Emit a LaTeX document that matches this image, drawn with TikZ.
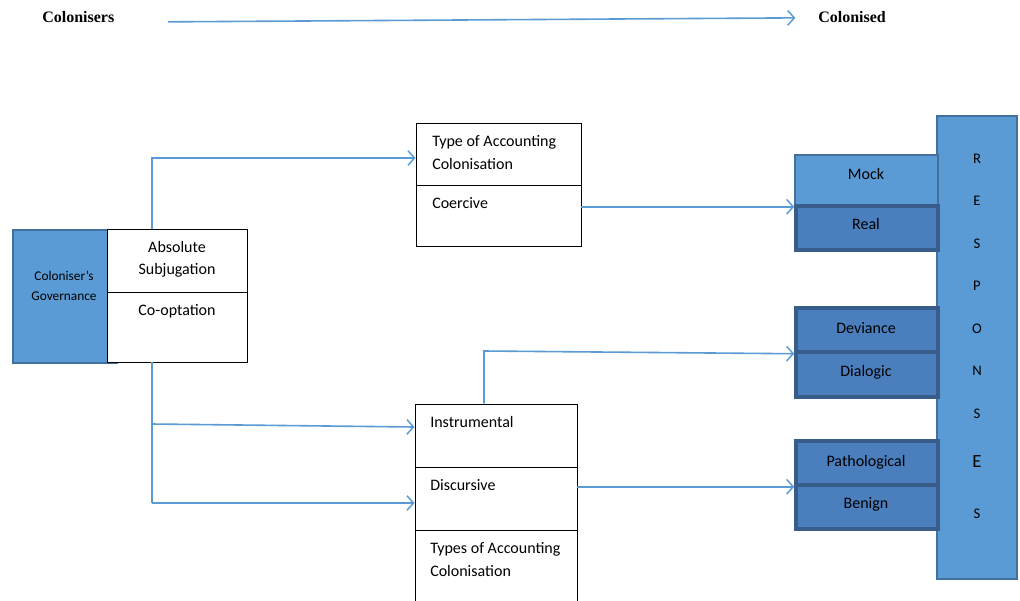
\documentclass[tikz,border=0pt]{standalone}
\usepackage{fontspec}
\setmainfont{Carlito}
\newfontfamily\titlefont{Liberation Serif}
\usetikzlibrary{arrows.meta,fit}
\definecolor{lb}{HTML}{5B9BD5}
\definecolor{lbb}{HTML}{41719C}
\definecolor{db}{HTML}{4A7EBD}
\definecolor{dbb}{HTML}{385D8A}
\begin{document}
\begin{tikzpicture}[x=0.75pt,y=-0.75pt,
  cell/.style={draw=black, fill=white, line width=0.7pt, inner sep=0pt},
  govbox/.style={draw=lbb, fill=lb, line width=1.2pt, inner sep=0pt},
  mockbox/.style={draw=lbb, fill=lb, line width=1.1pt, inner sep=0pt},
  darkbox/.style={draw=dbb, fill=db, line width=2.6pt, inner sep=0pt},
  txt/.style={inner sep=0pt, font=\fontsize{12}{14}\selectfont},
  smalltxt/.style={inner sep=0pt, font=\fontsize{10}{12}\selectfont},
  lettxt/.style={inner sep=0pt, font=\fontsize{11}{13}\selectfont},
  titletxt/.style={inner sep=0pt, font=\titlefont\bfseries\fontsize{12}{14}\selectfont},
  line/.style={draw=lb, line width=1.2pt},
  conn/.style={line, -{Straight Barb[length=5pt,width=11pt,line width=1.1pt]}}
]
\useasboundingbox (0,0) rectangle (1020,600);

% title row
\node[titletxt, anchor=base west] (colr) at (42,22) {Colonisers};
\node[titletxt, anchor=base west] (cold) at (818,22) {Colonised};
\draw[conn] ([xshift=40pt,yshift=-4pt]colr.east) -- ([xshift=-17pt,yshift=-1pt]cold.west);

% coloniser's governance
\node[govbox, fit={(13,230)(117,363)}] (gov) {};
\node[smalltxt, anchor=base] (gov1) at (64,280) {Coloniser’s};
\node[smalltxt, anchor=base] (gov2) at (64,300) {Governance};
\node[cell, fit={(107,229)(247,292)}] (abs) {};
\node[cell, fit={(107,292)(247,362)}] (coopt) {};
\node[txt, anchor=base] (abs1) at (177,252) {Absolute};
\node[txt, anchor=base] (abs2) at (177,274) {Subjugation};
\node[txt, anchor=base] (coopt1) at (177,315) {Co-optation};

% type of accounting colonisation box (top)
\node[cell, fit={(416,123)(581,185)}] (tac) {};
\node[cell, fit={(416,185)(581,246)}] (coer) {};
\node[txt, anchor=base west] (tac1) at (432,146) {Type of Accounting};
\node[txt, anchor=base west] (tac2) at (432,169) {Colonisation};
\node[txt, anchor=base west] (coer1) at (432,208) {Coercive};

% bottom box
\node[cell, fit={(415,404)(577,467)}] (instr) {};
\node[cell, fit={(415,467)(577,530)}] (disc) {};
\node[cell, fit={(415,530)(577,605)}] (tacb) {};
\node[txt, anchor=base west] (instr1) at (430,427) {Instrumental};
\node[txt, anchor=base west] (disc1) at (430,490) {Discursive};
\node[txt, anchor=base west] (tacb1) at (430,553) {Types of Accounting};
\node[txt, anchor=base west] (tacb2) at (430,576) {Colonisation};

% responses
\node[mockbox, fit={(937,116)(1017,579)}] (resp) {};
\foreach \l/\y [count=\i] in {R/163,E/205,S/248,P/290,O/333,N/375,S/418}
  \node[lettxt, anchor=base] (r\i) at (977,\y) {\l};
\node[inner sep=0pt, font=\fontsize{14}{16}\selectfont, anchor=base] (r8) at (977,467) {E};
\node[lettxt, anchor=base] (r9) at (977,518) {S};

\node[mockbox, fit={(795,155)(938,206)}] (mock) {};
\node[darkbox, fit={(796,206)(938,250)}] (real) {};
\node[darkbox, fit={(796,308)(938,352)}] (dev) {};
\node[darkbox, fit={(796,352)(938,397)}] (dial) {};
\node[darkbox, fit={(796,441)(938,485)}] (patho) {};
\node[darkbox, fit={(796,485)(938,529)}] (benign) {};
\node[txt, anchor=base] (mock1) at (866,179) {Mock};
\node[txt, anchor=base] (real1) at (866,229) {Real};
\node[txt, anchor=base] (dev1) at (866,333) {Deviance};
\node[txt, anchor=base] (dial1) at (866,376) {Dialogic};
\node[txt, anchor=base] (patho1) at (866,466) {Pathological};
\node[txt, anchor=base] (benign1) at (866,508) {Benign};

% connectors
\coordinate (jt) at (152,158);
\coordinate (jm) at (152,424);
\coordinate (jmend) at (416,427);
\coordinate (jb) at (152,503);
\coordinate (ji) at (484,351);
\draw[conn] (abs.north -| jt) -- (jt) -- (tac.west |- jt);
\draw[line] (coopt.south -| jb) -- (jb);
\draw[conn] (jm) -- (instr.west |- jmend);
\draw[conn] (jb) -- (disc.west |- jb);
\draw[conn] (coer.east |- mock.south west) -- (mock.south west);
\draw[conn] (instr.north -| ji) -- (ji) -- (dev.south west);
\draw[conn] (disc.east |- patho.south west) -- (patho.south west);
\end{tikzpicture}
\end{document}
